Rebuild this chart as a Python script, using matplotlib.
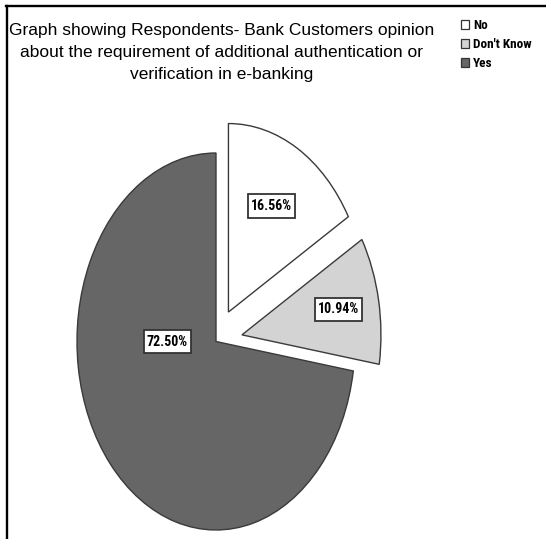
import matplotlib
matplotlib.use("Agg")
import matplotlib.pyplot as plt
from matplotlib import font_manager
from matplotlib.lines import Line2D
from matplotlib.patches import Patch
from matplotlib.path import Path

# Survey responses (share of respondents, %)
categories = ["No", "Don't Know", "Yes"]
shares = [16.56, 10.94, 72.50]
explode = [0.18, 0.19, 0.0]
colors = ["#ffffff", "#d3d3d3", "#666666"]
title_lines = [
    "Graph showing Respondents- Bank Customers opinion",
    "about the requirement of additional authentication or",
    "verification in e-banking",
]
# where each percentage box sits, in pie data units
label_xy = [(0.40, 0.72), (0.88, 0.17), (-0.35, 0.0)]


def pick_font(*names):
    avail = {f.name for f in font_manager.fontManager.ttflist}
    for n in names:
        if n in avail:
            return n
    return "DejaVu Sans"


narrow = pick_font("Liberation Sans Narrow", "Arial Narrow", "Roboto Condensed", "Liberation Sans")
sans = pick_font("Liberation Sans", "Arial", "DejaVu Sans")


def label_box(x0, y0, width, height, mutation_size):
    """Rectangle with a small side margin and a taller top/bottom margin."""
    px = 0.20 * mutation_size
    py = 0.34 * mutation_size
    x0, y0 = x0 - px, y0 - py
    x1, y1 = x0 + width + 2 * px, y0 + height + 2 * py
    return Path([(x0, y0), (x1, y0), (x1, y1), (x0, y1), (x0, y0)],
                closed=True)


W, H = 546, 539
fig = plt.figure(figsize=(W / 100, H / 100), dpi=100)
fig.patch.set_facecolor("white")

# pie centre and radii in pixels
cx, cy, rx, ry = 216, 341.5, 139, 188.5
span = 1.5
ax = fig.add_axes([(cx - span * rx) / W, (H - cy - span * ry) / H,
                   2 * span * rx / W, 2 * span * ry / H])
wedges, _ = ax.pie(shares, explode=explode, colors=colors, startangle=90,
                   counterclock=False, radius=1.0,
                   wedgeprops=dict(edgecolor="#3a3a3a", linewidth=1.0))
ax.set_aspect("auto")
ax.set_xlim(-span, span)
ax.set_ylim(-span, span)
ax.axis("off")

for (x, y), v in zip(label_xy, shares):
    ax.text(x, y, f"{v:.2f}%", ha="center", va="center", fontsize=10,
            fontweight="bold", family=[narrow, "DejaVu Sans"], color="black",
            bbox=dict(boxstyle=label_box, facecolor="white",
                      edgecolor="#333333", linewidth=1.3))

# title
for i, line in enumerate(title_lines):
    fig.text(222 / W, 1 - (35 + 22 * i) / H, line, ha="center", va="baseline",
             fontsize=12.5, family=[sans, "DejaVu Sans"], color="black")

# legend
handles = [Patch(facecolor=c, edgecolor="#333333", linewidth=0.9) for c in colors]
fig.legend(handles, categories, loc="upper left",
           bbox_to_anchor=(461 / W, 1 - 19 / H), frameon=False,
           borderpad=0, borderaxespad=0, handlelength=0.62, handleheight=0.62,
           handletextpad=0.3, labelspacing=0.45,
           prop=dict(family=[narrow, "DejaVu Sans"], weight="bold", size=9.5))

# frame lines along the top and left edges
fig.add_artist(Line2D([6 / W, 1], [1 - 5.5 / H, 1 - 5.5 / H], color="black",
                      lw=1.7, transform=fig.transFigure))
fig.add_artist(Line2D([7 / W, 7 / W], [0, 1 - 5.5 / H], color="black",
                      lw=1.7, transform=fig.transFigure))

fig.savefig("out.png", dpi=100, facecolor="white")
